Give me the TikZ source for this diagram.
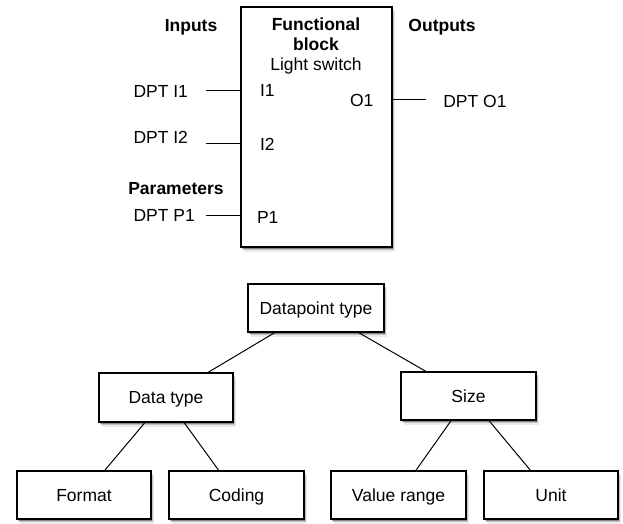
\documentclass[tikz,border=0pt]{standalone}
\usepackage{fontspec}
\setmainfont{Liberation Sans}
\usetikzlibrary{shadows}
\begin{document}
\begin{tikzpicture}[x=1pt,y=-1pt,
  every node/.style={font=\fontsize{17.5}{21}\selectfont, inner sep=0pt, outer sep=0pt},
  lbl/.style={anchor=base west},
  ttl/.style={anchor=base, font=\fontsize{17.5}{21}\selectfont\bfseries},
  softshadow/.style={
    drop shadow={shadow xshift=1pt, shadow yshift=-1.5pt, opacity=0.3, fill=black},
    drop shadow={shadow xshift=2pt, shadow yshift=-3pt, opacity=0.18, fill=black},
    drop shadow={shadow xshift=3pt, shadow yshift=-4.5pt, opacity=0.08, fill=black}},
  blockbox/.style={draw, line width=1.2pt, fill=white, softshadow},
  box/.style={draw, line width=1.2pt, fill=white, softshadow,
    minimum width=135pt, minimum height=48pt, text height=12.6pt, text depth=0pt},
  conn/.style={line width=1pt}]
\useasboundingbox (0,0) rectangle (623,523);

% ---- Functional block ----
\node[blockbox, minimum width=151pt, minimum height=240pt, anchor=north west] (fb) at (241,7) {};
\node[ttl] (inputs) at (191,31) {Inputs};
\node[ttl] (outputs) at (442,31) {Outputs};
\node[ttl] (func) at (316,30.7) {Functional};
\node[ttl] (blk) at (316,50.7) {block};
\node[anchor=base] (ls) at (316,70.7) {Light switch};
\node[lbl, font=\fontsize{17.5}{21}\selectfont\bfseries] (params) at (128.3,194) {Parameters};

\node[lbl] (dpti1) at (133.5,97.7) {DPT I1};
\node[lbl] (dpti2) at (133.5,143.3) {DPT I2};
\node[lbl] (dptp1) at (133.5,221.5) {DPT P1};
\node[lbl] (dpto1) at (443.3,107.3) {DPT O1};

\node[lbl] (i1) at (260,96.7) {I1};
\node[lbl] (i2) at (260,150) {I2};
\node[lbl] (p1) at (257,223.3) {P1};
\node[lbl] (o1) at (350,106.5) {O1};

\coordinate (ci1) at (206,90);
\coordinate (ci2) at (206,143.3);
\coordinate (cp1) at (206,215);
\coordinate (co1) at (426,99.3);
\draw[conn] (ci1) -- (ci1 -| fb.west);
\draw[conn] (ci2) -- (ci2 -| fb.west);
\draw[conn] (cp1) -- (cp1 -| fb.west);
\draw[conn] (co1 -| fb.east) -- (co1);

% ---- Datapoint type tree ----
\node[box, minimum width=136pt] (dpt) at (316,308) {Datapoint type};
\node[box, minimum width=134pt, minimum height=49pt] (dtype) at (166,397.5) {Data type};
\node[box] (size) at (468.5,396) {Size};
\node[box, minimum width=134pt] (format) at (84,495) {Format};
\node[box] (coding) at (236.5,495) {Coding};
\node[box] (vrange) at (398.5,495) {Value range};
\node[box, minimum width=134pt] (unit) at (551,495) {Unit};

\draw[conn] (dpt) -- (dtype);
\draw[conn] (dpt) -- (size);
\draw[conn] (dtype) -- (format);
\draw[conn] (dtype) -- (coding);
\draw[conn] (size) -- (vrange);
\draw[conn] (size) -- (unit);
\end{tikzpicture}
\end{document}
